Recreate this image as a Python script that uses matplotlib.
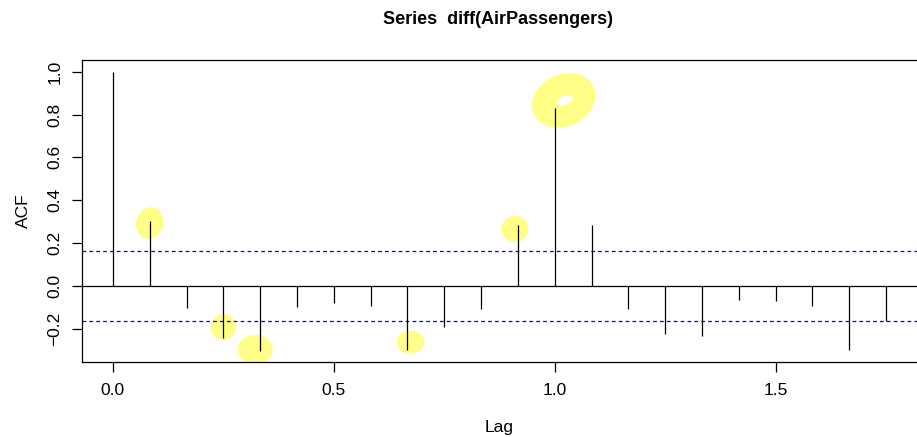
import matplotlib
matplotlib.use("Agg")
import matplotlib.pyplot as plt
from matplotlib.patches import Ellipse
from matplotlib.transforms import ScaledTranslation

plt.rcParams['font.family'] = ['Liberation Sans', 'DejaVu Sans']

# sample autocorrelation of the differenced series, lags 0..21 months
lags = [k / 12 for k in range(22)]
acf = [1.000, 0.303, -0.104, -0.243, -0.302, -0.097, -0.081, -0.093,
       -0.299, -0.193, -0.106, 0.285, 0.829, 0.285, -0.109, -0.226,
       -0.233, -0.065, -0.069, -0.093, -0.299, -0.163]
clim = 0.164

x_ticks = [0.0, 0.5, 1.0, 1.5]
x_labels = ["0.0", "0.5", "1.0", "1.5"]
y_ticks = [-0.2, 0.0, 0.2, 0.4, 0.6, 0.8, 1.0]
y_labels = ["\u22120.2", "0.0", "0.2", "0.4", "0.6", "0.8", "1.0"]

# highlight marks: lag index, offset from tip (px), size (px), angle
highlights = [
    (1, 0, -2, 27, 32, -15),
    (3, 0, 11, 25, 26, 0),
    (4, -5, 1, 35, 30, 0),
    (8, 3, 8, 28, 23, 0),
    (11, -3, -4, 27, 26, 0),
    (12, 9, 8, 66, 52, 25),
]
hole = (12, 10, 8, 17, 9, 20)

fig = plt.figure(figsize=(9.17, 4.37), dpi=100)
ax = fig.add_axes([0.0894, 0.1716, 0.9106, 0.6911])

ax.set_xlim(-0.07, 1.82)
ax.set_ylim(-0.355, 1.0546)


def blob(i, dx, dy, w, h, ang, color, z):
    tr = fig.dpi_scale_trans + ScaledTranslation(lags[i], acf[i], ax.transData)
    e = Ellipse((dx / 100, dy / 100), w / 100, h / 100, angle=ang,
                facecolor=color, edgecolor='none', transform=tr, zorder=z)
    ax.add_patch(e)


for h in highlights:
    blob(*h, color='#ffff88', z=1)
blob(*hole, color='white', z=1.5)

ax.vlines(lags, 0, acf, colors='black', linewidth=0.9, zorder=3)
ax.axhline(0, color='black', linewidth=0.9, zorder=2)
ax.axhline(clim, color='blue', linestyle=(0, (3, 2.5)), linewidth=0.9, zorder=2)
ax.axhline(-clim, color='blue', linestyle=(0, (3, 2.5)), linewidth=0.9, zorder=2)

for s in ['top', 'left', 'bottom']:
    ax.spines[s].set_linewidth(0.9)
ax.spines['right'].set_visible(False)

ax.set_xticks(x_ticks)
ax.set_xticklabels(x_labels, fontsize=12.5)
ax.set_yticks(y_ticks)
ax.set_yticklabels(y_labels, fontsize=12.5, rotation=90, va='center')
ax.tick_params(axis='both', length=7, width=0.9, direction='out')
ax.tick_params(axis='x', pad=8)
ax.tick_params(axis='y', pad=7)

ax.set_xlabel("Lag", fontsize=12.5, labelpad=16)
ax.set_ylabel("ACF", fontsize=12.5, labelpad=12)
fig.text(0.543, 0.955, "Series  diff(AirPassengers)", fontsize=13,
         fontweight='bold', ha='center', va='center')

fig.savefig("out.png", dpi=100)
